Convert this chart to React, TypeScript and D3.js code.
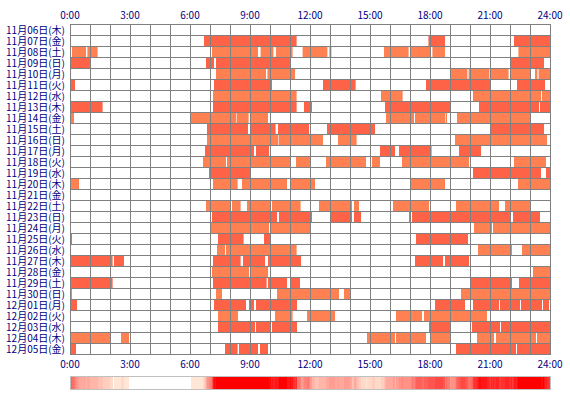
import * as d3 from "d3"

const dates = [
  "11月06日(木)", "11月07日(金)", "11月08日(土)", "11月09日(日)", "11月10日(月)",
  "11月11日(火)", "11月12日(水)", "11月13日(木)", "11月14日(金)", "11月15日(土)",
  "11月16日(日)", "11月17日(月)", "11月18日(火)", "11月19日(水)", "11月20日(木)",
  "11月21日(金)", "11月22日(土)", "11月23日(日)", "11月24日(月)", "11月25日(火)",
  "11月26日(水)", "11月27日(木)", "11月28日(金)", "11月29日(土)", "11月30日(日)",
  "12月01日(月)", "12月02日(火)", "12月03日(水)", "12月04日(木)", "12月05日(金)",
]

// [start, end] in hours, one list per day
const segments: [number, number][][] = [
  [],
  [[6.7, 11.33], [17.92, 18.75], [22.2, 24]],
  [[0.1, 0.8], [0.87, 1.38], [7.1, 9.4], [9.53, 10.17], [10.3, 11.13], [11.63, 12.87], [12.97, 13.07], [15.7, 16.93], [17.02, 18.02], [18.12, 18.75], [22.42, 24]],
  [[0.05, 1.0], [6.8, 7.2], [7.3, 11.03], [22.03, 23.7]],
  [[7.3, 9.8], [9.87, 11.25], [19.03, 19.87], [19.93, 20.97], [21.03, 21.93], [22.03, 23.03], [23.25, 23.37], [23.43, 24]],
  [[0.05, 0.25], [7.2, 10.1], [12.65, 14.28], [17.8, 21.0], [22.35, 23.75]],
  [[7.15, 11.33], [15.55, 16.63], [20.15, 23.55], [23.6, 24]],
  [[0.05, 1.63], [7.15, 11.33], [11.7, 12.1], [15.75, 19.0], [20.45, 23.45], [23.5, 24]],
  [[0.05, 0.2], [6.05, 8.3], [8.33, 8.93], [9.0, 9.9], [15.8, 17.2], [17.25, 18.77], [18.8, 18.85], [19.35, 23.0]],
  [[6.85, 8.9], [9.0, 10.28], [10.4, 11.95], [12.85, 15.25], [21.03, 23.7]],
  [[6.85, 10.42], [10.45, 12.65], [13.4, 14.33], [19.25, 23.85]],
  [[6.75, 9.2], [9.3, 9.95], [15.5, 16.25], [16.45, 18.08], [19.45, 20.55]],
  [[6.65, 7.8], [7.85, 11.03], [11.3, 12.0], [12.8, 14.8], [15.1, 15.5], [16.6, 19.95], [22.2, 23.8]],
  [[6.95, 9.0], [20.15, 23.55], [23.8, 24]],
  [[0.05, 0.45], [7.15, 8.38], [8.6, 10.85], [11.05, 12.25], [17.05, 18.75], [22.4, 24]],
  [],
  [[6.8, 8.03], [8.1, 8.53], [8.85, 10.03], [10.1, 11.53], [12.45, 14.1], [14.2, 14.45], [16.15, 17.95], [19.3, 21.45], [21.75, 23.0]],
  [[7.1, 10.35], [10.45, 12.1], [13.05, 14.1], [14.2, 14.55], [16.95, 17.0], [17.1, 22.05], [22.15, 23.5]],
  [[7.05, 9.95], [10.05, 12.0], [20.2, 21.1], [21.15, 24]],
  [[0.05, 0.1], [7.4, 8.68], [9.7, 10.03], [17.3, 19.9]],
  [[7.35, 7.75], [7.8, 11.33], [20.4, 22.1], [22.6, 24]],
  [[0.05, 2.13], [2.2, 2.7], [7.15, 8.53], [8.65, 9.75], [9.9, 11.55], [17.25, 18.65], [18.75, 19.95]],
  [[7.1, 8.95], [9.0, 9.9], [23.15, 24]],
  [[0.05, 2.13], [7.15, 9.83], [9.9, 10.85], [11.0, 11.5], [20.0, 22.1], [22.45, 24]],
  [[0.05, 0.1], [7.3, 7.6], [10.35, 13.45], [13.7, 14.0], [19.55, 24]],
  [[0.05, 0.35], [7.2, 8.8], [8.95, 9.2], [9.3, 11.35], [18.25, 19.75], [20.15, 21.45], [21.5, 22.5], [22.55, 23.6], [23.65, 23.95]],
  [[7.4, 8.4], [10.25, 11.13], [11.85, 13.25], [16.3, 17.6], [17.7, 20.85]],
  [[7.4, 9.25], [9.3, 10.03], [10.1, 11.35], [17.95, 19.0], [20.1, 21.5], [21.55, 24]],
  [[0.05, 2.0], [2.55, 2.95], [14.85, 16.25], [16.3, 17.8], [18.0, 19.0], [20.35, 21.2], [21.3, 23.3], [23.35, 24]],
  [[0.05, 0.3], [7.75, 8.38], [8.45, 9.4], [9.5, 9.9], [19.3, 22.3], [22.35, 24]],
]

const tickHours = [0, 3, 6, 9, 12, 15, 18, 21, 24]
const tickLabels = ["0:00", "3:00", "6:00", "9:00", "12:00", "15:00", "18:00", "21:00", "24:00"]

const rowColors = ["#ff8050", "#ff6347"]

const width = 570
const height = 400
const left = 70
const right = 550
const top = 24
const bottom = 354
const stripTop = 376
const stripBottom = 389
const binCount = 480

const font = "'Noto Sans CJK JP', sans-serif"
const navy = "#000080"

export default function App() {
  const x = d3.scaleLinear().domain([0, 24]).range([left, right])
  const y = d3.scaleBand<string>().domain(dates).range([top, bottom]).padding(0)
  const hours = d3.range(0, 25)

  // how many days are active in each 3-minute bin
  const binWidth = 24 / binCount
  const counts = d3.range(binCount).map((i) => {
    const mid = (i + 0.5) * binWidth
    return segments.filter((row) => row.some(([s, e]) => mid >= s && mid < e)).length
  })
  const heat = d3
    .scaleLinear<string>()
    .domain([1, 20])
    .range(["#ffe6d6", "#ff0000"])
    .clamp(true)

  return (
    <div style={{ position: "absolute", left: 0, top: 0 }}>
      <svg width={width} height={height} style={{ display: "block", background: "#fff" }}>
        {segments.map((row, i) =>
          row.map(([s, e], j) => (
            <rect
              key={`${i}-${j}`}
              x={x(s)}
              y={y(dates[i]) ?? 0}
              width={x(e) - x(s)}
              height={y.bandwidth()}
              fill={rowColors[i % 2 === 0 ? 0 : 1]}
            />
          ))
        )}

        <g stroke="#808080" strokeWidth={1} shapeRendering="crispEdges">
          {hours.map((h) => (
            <line key={`v${h}`} x1={x(h) + 0.5} x2={x(h) + 0.5} y1={top} y2={bottom} />
          ))}
          {dates.map((d) => (
            <line key={`h${d}`} x1={left} x2={right + 1} y1={(y(d) ?? 0) + 0.5} y2={(y(d) ?? 0) + 0.5} />
          ))}
          <line x1={left} x2={right + 1} y1={bottom + 0.5} y2={bottom + 0.5} />
        </g>

        <g fontFamily={font} fontSize={10} fill={navy}>
          {dates.map((d) => (
            <text key={d} x={65} y={(y(d) ?? 0) + y.bandwidth() / 2 + 4} textAnchor="end">
              {d}
            </text>
          ))}
          {tickHours.map((h, i) => (
            <text key={`t${h}`} x={x(h)} y={19} textAnchor="middle">
              {tickLabels[i]}
            </text>
          ))}
          {tickHours.map((h, i) => (
            <text key={`b${h}`} x={x(h)} y={368} textAnchor="middle">
              {tickLabels[i]}
            </text>
          ))}
        </g>

        <g shapeRendering="crispEdges">
          {counts.map((c, i) => (
            <rect
              key={`s${i}`}
              x={x(i * binWidth)}
              y={stripTop}
              width={x(binWidth) - x(0) + 0.5}
              height={stripBottom - stripTop}
              fill={c === 0 ? "#ffffff" : heat(c)}
            />
          ))}
          <rect
            x={left + 0.5}
            y={stripTop + 0.5}
            width={right - left}
            height={stripBottom - stripTop}
            fill="none"
            stroke="#c0c0c0"
            strokeWidth={1.5}
          />
        </g>
      </svg>
    </div>
  )
}
